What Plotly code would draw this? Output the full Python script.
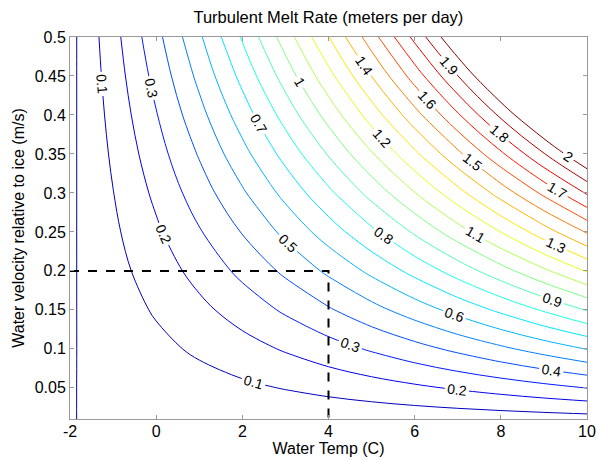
import plotly.graph_objects as go

# Water temperature grid (C) and water velocity grid (m/s)
temps = [-2, -1, 0, 1, 2, 3, 4, 5, 6, 7, 8, 9, 10]
velocities = [0.01, 0.05, 0.10, 0.15, 0.20, 0.25, 0.30, 0.35, 0.40, 0.45, 0.50]

# Turbulent melt rate (m/day), one row per velocity
melt_v001 = [-0.0006, 0.0033, 0.0074, 0.0117, 0.0162, 0.0210, 0.0259, 0.0311, 0.0366, 0.0422, 0.0480, 0.0541, 0.0604]
melt_v005 = [-0.0030, 0.0164, 0.0368, 0.0584, 0.0811, 0.1048, 0.1297, 0.1557, 0.1828, 0.2109, 0.2402, 0.2706, 0.3021]
melt_v010 = [-0.0061, 0.0327, 0.0736, 0.1168, 0.1621, 0.2097, 0.2594, 0.3114, 0.3655, 0.4219, 0.4804, 0.5412, 0.6041]
melt_v015 = [-0.0091, 0.0491, 0.1105, 0.1752, 0.2432, 0.3145, 0.3892, 0.4671, 0.5483, 0.6328, 0.7206, 0.8118, 0.9062]
melt_v020 = [-0.0121, 0.0654, 0.1473, 0.2336, 0.3243, 0.4194, 0.5189, 0.6228, 0.7311, 0.8438, 0.9609, 1.0824, 1.2083]
melt_v025 = [-0.0151, 0.0818, 0.1841, 0.2920, 0.4054, 0.5242, 0.6486, 0.7785, 0.9138, 1.0547, 1.2011, 1.3530, 1.5103]
melt_v030 = [-0.0182, 0.0981, 0.2209, 0.3504, 0.4864, 0.6291, 0.7783, 0.9341, 1.0966, 1.2656, 1.4413, 1.6235, 1.8124]
melt_v035 = [-0.0212, 0.1145, 0.2577, 0.4088, 0.5675, 0.7339, 0.9080, 1.0898, 1.2794, 1.4766, 1.6815, 1.8941, 2.1145]
melt_v040 = [-0.0242, 0.1308, 0.2946, 0.4672, 0.6486, 0.8388, 1.0378, 1.2455, 1.4621, 1.6875, 1.9217, 2.1647, 2.4165]
melt_v045 = [-0.0272, 0.1472, 0.3314, 0.5256, 0.7296, 0.9436, 1.1675, 1.4012, 1.6449, 1.8985, 2.1619, 2.4353, 2.7186]
melt_v050 = [-0.0303, 0.1635, 0.3682, 0.5840, 0.8107, 1.0485, 1.2972, 1.5569, 1.8277, 2.1094, 2.4022, 2.7059, 3.0207]

melt = [melt_v001, melt_v005, melt_v010, melt_v015, melt_v020, melt_v025,
        melt_v030, melt_v035, melt_v040, melt_v045, melt_v050]

# Contour levels
level_start, level_end, level_step = 0.0, 2.0, 0.1

# Reference point marked with dashed lines
ref_temp = 4
ref_vel = 0.2

x_ticks = [-2, 0, 2, 4, 6, 8, 10]
x_tick_text = ["-2", "0", "2", "4", "6", "8", "10"]
y_ticks = [0.05, 0.1, 0.15, 0.2, 0.25, 0.3, 0.35, 0.4, 0.45, 0.5]
y_tick_text = ["0.05", "0.1", "0.15", "0.2", "0.25", "0.3", "0.35", "0.4", "0.45", "0.5"]
x_range = [-2, 10]
y_range = [0.01, 0.5]

jet = [
    [0.0, "rgb(0,0,143)"],
    [0.125, "rgb(0,0,255)"],
    [0.375, "rgb(0,255,255)"],
    [0.625, "rgb(255,255,0)"],
    [0.875, "rgb(255,0,0)"],
    [1.0, "rgb(128,0,0)"],
]

FONT = "Arial, 'Liberation Sans', Helvetica, sans-serif"

fig = go.Figure()
fig.add_trace(go.Contour(
    x=temps, y=velocities, z=melt,
    autocontour=False,
    contours=dict(start=level_start, end=level_end, size=level_step,
                  coloring="lines", showlabels=True,
                  labelfont=dict(family=FONT, size=14, color="black"),
                  labelformat=".2~g"),
    colorscale=jet, showscale=False,
    line=dict(width=1, smoothing=1),
    hoverinfo="skip",
))
fig.add_trace(go.Scatter(
    x=[x_range[0], ref_temp, ref_temp], y=[ref_vel, ref_vel, y_range[0]],
    mode="lines", line=dict(color="black", width=2, dash="dash"),
    showlegend=False, hoverinfo="skip",
))

axis_common = dict(showline=True, linecolor="#9a9a9a", linewidth=1, mirror="ticks",
                   ticks="inside", ticklen=4, tickcolor="#9a9a9a",
                   showgrid=False, zeroline=False, automargin=False,
                   tickfont=dict(family=FONT, size=16, color="black"))

fig.update_layout(
    width=596, height=460,
    margin=dict(l=70, r=9, t=37, b=41),
    paper_bgcolor="white", plot_bgcolor="white",
    showlegend=False,
    title=dict(text="Turbulent Melt Rate (meters per day)", x=0.551, xanchor="center",
               y=1 - 17.5 / 460, yref="container", yanchor="middle",
               font=dict(family=FONT, size=16.5, color="black")),
    xaxis=dict(range=x_range, tickvals=x_ticks, ticktext=x_tick_text,
               ticklabelstandoff=-2,
               title=dict(text="Water Temp (C)", font=dict(family=FONT, size=16, color="black"), standoff=0),
               **axis_common),
    yaxis=dict(range=y_range, tickvals=y_ticks, ticktext=y_tick_text,
               ticklabelstandoff=0,
               title=dict(text="Water velocity relative to ice (m/s)", font=dict(family=FONT, size=16, color="black"), standoff=6),
               **axis_common),
)

fig.write_html("out.html", config={"displayModeBar": False},
               post_script="document.body.style.margin='0';document.body.style.overflow='hidden';")
